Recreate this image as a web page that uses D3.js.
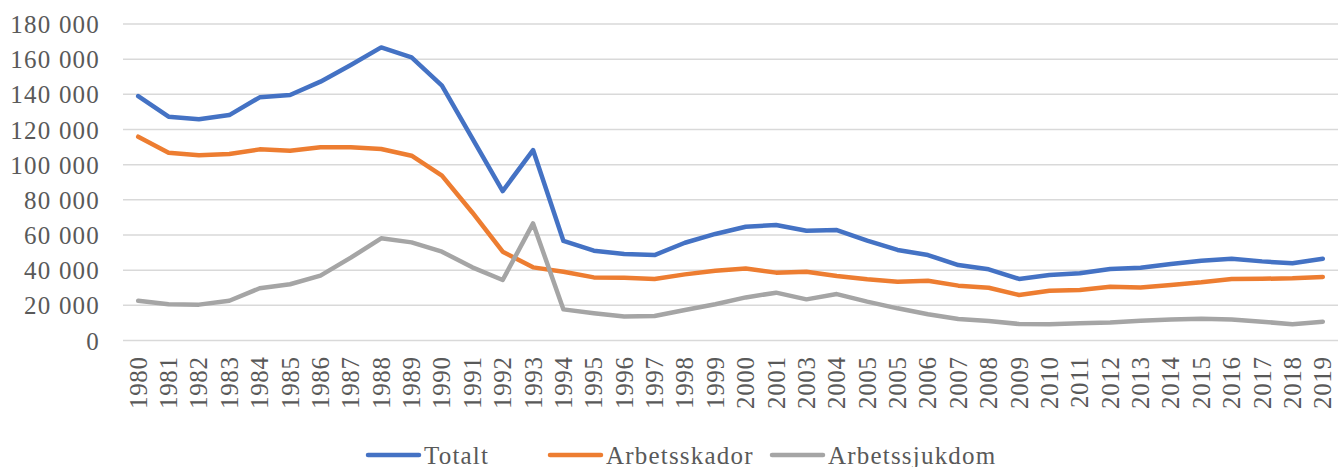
<!DOCTYPE html>
<html>
<head>
<meta charset="utf-8">
<script src="https://cdn.jsdelivr.net/npm/d3@7"></script>
<style>
  html, body { margin: 0; padding: 0; background: #fff; }
  svg { display: block; }
  text { font-family: "Liberation Serif", serif; fill: #595959; }
</style>
</head>
<body>
<svg id="chart" width="1338" height="467"></svg>
<script>
const categories = ["1980","1981","1982","1983","1984","1985","1986","1987","1988","1989",
  "1990","1991","1992","1993","1994","1995","1996","1997","1998","1999",
  "2000","2001","2003","2004","2005","2005","2006","2007","2008","2009",
  "2010","2011","2012","2013","2014","2015","2016","2017","2018","2019"];

const totalt = [139000,127300,125800,128200,138300,139600,147200,156700,166700,161000,
  145000,115000,85000,108300,56600,51100,49200,48600,55600,60600,
  64700,65700,62400,62800,56800,51500,48600,42900,40500,35000,
  37200,38200,40700,41400,43500,45400,46500,45000,43900,46500];

const arbetsskador = [115900,106800,105300,106100,108700,107900,109900,109900,108900,105100,
  93800,72800,50500,41600,39100,35900,35700,35000,37600,39700,
  41000,38600,39100,36700,34800,33400,34000,31200,30000,25900,
  28300,28700,30600,30200,31600,33100,35000,35100,35400,36100];

const arbetssjukdom = [22600,20600,20400,22600,29700,32000,36900,47100,58100,55800,
  50500,41600,34400,66600,17700,15500,13600,13900,17300,20600,
  24500,27200,23400,26400,22100,18300,14900,12200,11100,9400,
  9200,9800,10300,11300,12000,12400,12000,10700,9200,10700];

const yTicks = [0,20000,40000,60000,80000,100000,120000,140000,160000,180000];
const seriesNames = ["Totalt","Arbetsskador","Arbetssjukdom"];
const seriesColors = ["#4472C4","#ED7D31","#A5A5A5"];

const svg = d3.select("#chart");
const plotLeft = 123, plotRight = 1338, plotTop = 24, plotBottom = 340.5;
const FONT = "Liberation Serif, serif";

const x = d3.scaleBand().domain(d3.range(categories.length)).range([plotLeft, plotRight]);
const y = d3.scaleLinear().domain([0, 180000]).range([plotBottom, plotTop]);

const fmt = v => d3.format(",")(v).replace(/,/g, " ");

// gridlines
svg.append("g")
  .selectAll("line").data(yTicks).join("line")
  .attr("x1", plotLeft).attr("x2", plotRight)
  .attr("y1", d => y(d)).attr("y2", d => y(d))
  .attr("stroke", "#d9d9d9").attr("stroke-width", 1.5);

// y axis labels
const yAxis = d3.axisLeft(y).tickValues(yTicks).tickFormat(fmt).tickSize(0).tickPadding(23);
const yg = svg.append("g").attr("transform", `translate(${plotLeft},0)`).call(yAxis);
yg.select(".domain").remove();
yg.selectAll("text").attr("font-size", 25).attr("fill", "#595959")
  .attr("font-family", FONT).attr("letter-spacing", 1.2).attr("dy", "0.34em");

// x axis labels
const xAxis = d3.axisBottom(x).tickFormat(i => categories[i]).tickSize(0);
const xg = svg.append("g").attr("transform", `translate(0,${plotBottom})`).call(xAxis);
xg.select(".domain").remove();
xg.selectAll("text")
  .attr("font-size", 25).attr("fill", "#595959").attr("font-family", FONT)
  .attr("letter-spacing", 0.6)
  .attr("text-anchor", "end").attr("dy", "0.34em")
  .attr("transform", "translate(0,16) rotate(-90)")
  .attr("x", 0).attr("y", 0);

// lines
const allSeries = [totalt, arbetsskador, arbetssjukdom];
const line = d3.line().x((d, i) => x(i) + x.bandwidth() / 2).y(d => y(d));
svg.append("g").selectAll("path").data(allSeries).join("path")
  .attr("d", d => line(d))
  .attr("fill", "none")
  .attr("stroke", (d, i) => seriesColors[i])
  .attr("stroke-width", 4.5)
  .attr("stroke-linejoin", "round")
  .attr("stroke-linecap", "round");

// legend
const legendX = [368, 550, 772];
const lg = svg.append("g");
seriesNames.forEach((name, i) => {
  const g = lg.append("g").attr("transform", `translate(${legendX[i]},455)`);
  g.append("line").attr("x1", 0).attr("x2", 51).attr("y1", 0).attr("y2", 0)
    .attr("stroke", seriesColors[i]).attr("stroke-width", 4.5).attr("stroke-linecap", "round");
  g.append("text").attr("x", 56).attr("y", 0).attr("dy", "0.34em")
    .attr("font-size", 25).attr("font-family", FONT).attr("letter-spacing", 1.2).text(name);
});
</script>
</body>
</html>
